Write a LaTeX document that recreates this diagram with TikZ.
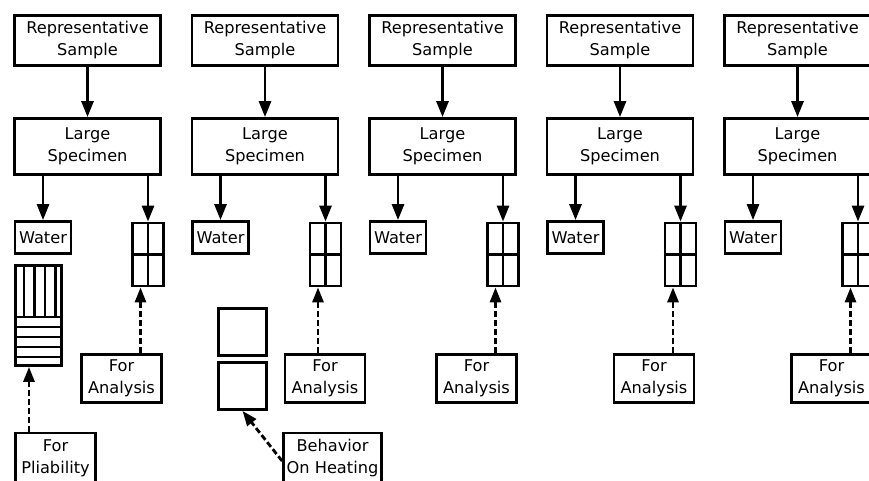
\documentclass[tikz,border=0pt]{standalone}
\usepackage{fontspec}
\setmainfont{DejaVu Sans}
\usetikzlibrary{arrows.meta,calc}
\begin{document}
\begin{tikzpicture}[x=1pt,y=-1pt,
  lw/.style={line width=2.8pt},
  box/.style={draw, lw, inner sep=0pt, align=center, font=\fontsize{16.2}{22}\selectfont},
  plainbox/.style={draw, lw, inner sep=0pt},
  arr/.style={lw, -{Triangle[length=16pt,width=12pt]}},
  darr/.style={lw, dash pattern=on 6pt off 3pt, -{Triangle[length=15pt,width=11pt]}},
  gridbox/.style={plainbox, minimum width=31pt, minimum height=63pt}]
\useasboundingbox (0,0) rectangle (869,481);
\clip (0,0) rectangle (869,481);
\foreach \i/\c/\f in {1/13/121.5, 2/190.5/325, 3/368/476.5, 4/545.5/654, 5/723/831.5} {
  \node[box, minimum width=146pt, minimum height=50pt] (rep\i) at ({\c+74.5},40.5) {Representative\\Sample};
  \node[box, minimum width=146pt, minimum height=56pt] (ls\i) at ({\c+74.5},146.5) {Large\\Specimen};
  \node[box, minimum width=56pt, minimum height=32pt] (w\i) at ({\c+30},237.5) {Water};
  \node[gridbox] (g\i) at ({\c+135},254.5) {};
  \draw[lw] (g\i.north) -- (g\i.south) (g\i.west) -- (g\i.east);
  \node[box, minimum width=80pt, minimum height=48pt] (fa\i) at (\f,378.5) {For\\Analysis};
  \coordinate (ax\i) at ({\c+127.5},0);
  \draw[arr] (rep\i) -- (ls\i);
  \draw[arr] (ls\i.south -| w\i.north) -- (w\i.north);
  \draw[arr] (ls\i.south -| g\i.north) -- (g\i.north);
  \draw[darr] (fa\i.north -| ax\i) -- (g\i.south -| ax\i);
}
% pliability specimen
\node[plainbox, minimum width=46pt, minimum height=100pt] (pl) at (38.5,315.5) {};
\foreach \x in {24,34.5,45,55.5} \draw[lw] (\x,265) -- (\x,317);
\foreach \y in {317,327,337,347,357} \draw[lw] (15,\y) -- (62,\y);
\node[box, minimum width=80pt, minimum height=50pt] (fp) at (55.5,458) {For\\Pliability};
\coordinate (axp) at (29,0);
\draw[darr] (fp.north -| axp) -- (pl.south -| axp);
% heating specimens
\node[plainbox, minimum width=48pt, minimum height=47pt] (sq1) at (242.5,332) {};
\node[plainbox, minimum width=48pt, minimum height=47pt] (sq2) at (242.5,386) {};
\node[box, minimum width=98pt, minimum height=50pt] (beh) at (332.5,458) {Behavior\\On Heating};
\draw[darr] ($(beh.west)+(0,3)$) -- (sq2.south);
\end{tikzpicture}
\end{document}
